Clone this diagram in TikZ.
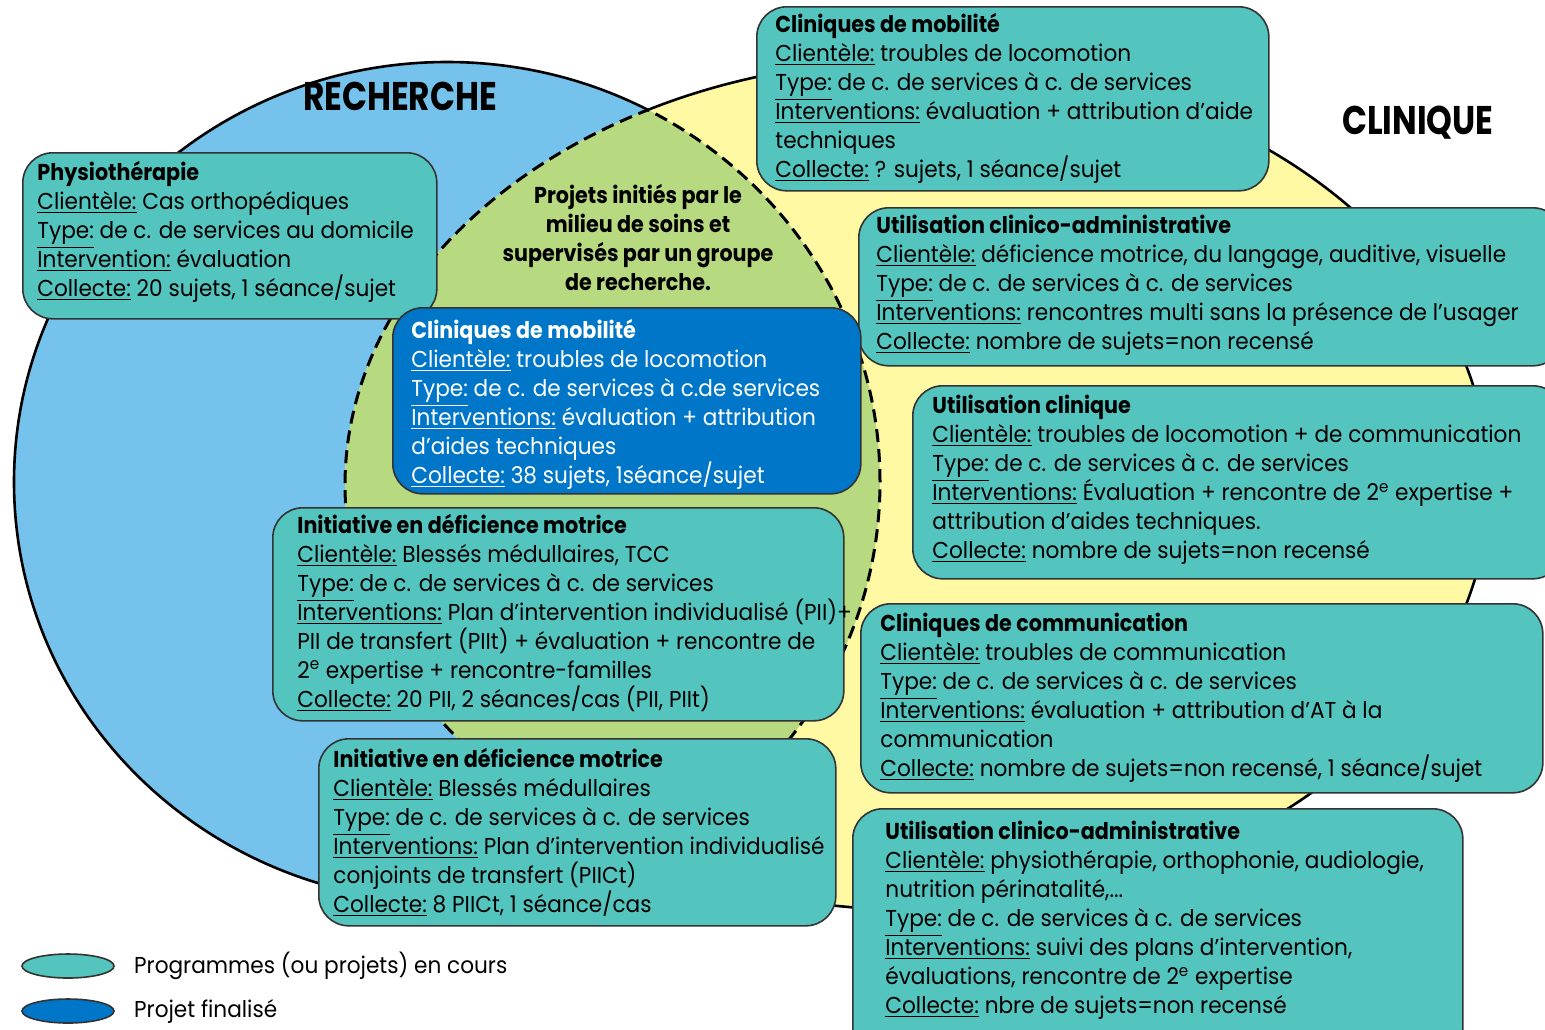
\documentclass[tikz,border=0pt]{standalone}
\usepackage{fontspec}
\setmainfont{Poppins}[FakeStretch=0.94, BoldFeatures={FakeStretch=0.9}]
\newfontfamily\titlefont{Poppins}[FakeStretch=0.82]
\usepackage{tikz}
\usetikzlibrary{positioning}
\usetikzlibrary{shapes.geometric}

\definecolor{recherche}{RGB}{117,195,236}
\definecolor{clinique}{RGB}{255,249,163}
\definecolor{mixte}{RGB}{183,217,127}
\definecolor{encours}{RGB}{84,197,190}
\definecolor{finalise}{RGB}{0,118,200}

\newcommand{\champ}[1]{\underline{#1}}
\setlength{\lineskiplimit}{-20pt}

\begin{document}
\begin{tikzpicture}[
    x=0.5pt, y=-0.5pt,
    progbox/.style={draw=black!80, line width=0.8pt, fill=encours, rounded corners=15pt, anchor=north west, inner sep=0pt},
    finibox/.style={progbox, fill=finalise},
    boxtext/.style={align=left, inner sep=0pt, font=\fontsize{11.5pt}{14.5pt}\selectfont},
    bigtitle/.style={font=\titlefont\bfseries\fontsize{20pt}{24pt}\selectfont},
    legendkey/.style={draw=black!80, line width=0.8pt, ellipse, minimum width=46pt, minimum height=12pt, inner sep=0pt},
    lens/.style={line width=1.5pt, dash pattern=on 6.5pt off 3.5pt}
    ]

    \useasboundingbox (0,0) rectangle (1545,1029);
    \clip (0,0) rectangle (1545,1029);

    % les deux milieux
    \fill[recherche] (447,482) ellipse [x radius=216.5pt, y radius=210pt];
    \fill[clinique] (917,485) ellipse [x radius=286pt, y radius=212.5pt];
    \begin{scope}
        \clip (447,482) ellipse [x radius=216.5pt, y radius=210pt];
        \fill[mixte] (917,485) ellipse [x radius=286pt, y radius=212.5pt];
        \draw[lens] (917,485) ellipse [x radius=286pt, y radius=212.5pt];
    \end{scope}
    \begin{scope}
        \clip (917,485) ellipse [x radius=286pt, y radius=212.5pt];
        \draw[lens] (447,482) ellipse [x radius=216.5pt, y radius=210pt];
    \end{scope}
    \begin{scope}[even odd rule]
        \clip (0,0) rectangle (1545,1029) (917,485) ellipse [x radius=286pt, y radius=212.5pt];
        \draw[line width=1.3pt] (447,482) ellipse [x radius=216.5pt, y radius=210pt];
    \end{scope}
    \begin{scope}[even odd rule]
        \clip (0,0) rectangle (1545,1029) (447,482) ellipse [x radius=216.5pt, y radius=210pt];
        \draw[line width=1.3pt] (917,485) ellipse [x radius=286pt, y radius=212.5pt];
    \end{scope}

    \node[bigtitle] (recherche) at (400,96) {RECHERCHE};
    \node[bigtitle] (clinique) at (1418,123) {CLINIQUE};
    \node[boxtext, align=center, font=\fontsize{11.5pt}{14.5pt}\selectfont\bfseries] (initie) at (638,237)
        {Projets initiés par le\\milieu de soins et\\supervisés par un groupe\\de recherche.};

    % programmes en cours
    \node[progbox, minimum width=207pt, minimum height=83pt] (physio) at (22,152) {};
    \node[boxtext, below right=4.5pt and 7.5pt of physio.north west] (physiotxt)
        {\textbf{Physiothérapie}\\
        \champ{Clientèle:} Cas orthopédiques\\
        \champ{Type:} de c. de services au domicile\\
        \champ{Intervention:} évaluation\\
        \champ{Collecte:} 20 sujets, 1 séance/sujet};

    \node[progbox, minimum width=256pt, minimum height=92pt] (mobilite) at (756,6) {};
    \node[boxtext, below right=3.5pt and 9.5pt of mobilite.north west] (mobilitetxt)
        {\textbf{Cliniques de mobilité}\\
        \champ{Clientèle:} troubles de locomotion\\
        \champ{Type:} de c. de services à c. de services\\
        \champ{Interventions:} évaluation + attribution d’aide\\
        techniques\\
        \champ{Collecte:} ? sujets, 1 séance/sujet};

    \node[progbox, minimum width=352pt, minimum height=79pt] (admin) at (858,207) {};
    \node[boxtext, below right=4pt and 9pt of admin.north west] (admintxt)
        {\textbf{Utilisation clinico-administrative}\\
        \champ{Clientèle:} déficience motrice, du langage, auditive, visuelle\\
        \champ{Type:} de c. de services à c. de services\\
        \champ{Interventions:} rencontres multi sans la présence de l’usager\\
        \champ{Collecte:} nombre de sujets=non recensé};

    \node[progbox, minimum width=325pt, minimum height=96.5pt] (clinique) at (912,385) {};
    \node[boxtext, below right=5pt and 10pt of clinique.north west] (cliniquetxt)
        {\textbf{Utilisation clinique}\\
        \champ{Clientèle:} troubles de locomotion + de communication\\
        \champ{Type:} de c. de services à c. de services\\
        \champ{Interventions:} Évaluation + rencontre de 2\textsuperscript{e} expertise +\\
        attribution d’aides techniques.\\
        \champ{Collecte:} nombre de sujets=non recensé};

    \node[progbox, minimum width=341pt, minimum height=94.5pt] (commu) at (860,603) {};
    \node[boxtext, below right=5pt and 10pt of commu.north west] (commutxt)
        {\textbf{Cliniques de communication}\\
        \champ{Clientèle:} troubles de communication\\
        \champ{Type:} de c. de services à c. de services\\
        \champ{Interventions:} évaluation + attribution d’AT à la\\
        communication\\
        \champ{Collecte:} nombre de sujets=non recensé, 1 séance/sujet};

    \node[progbox, minimum width=305pt, minimum height=125pt] (adminbis) at (852,808) {};
    \node[boxtext, below right=6.5pt and 16.5pt of adminbis.north west] (adminbistxt)
        {\textbf{Utilisation clinico-administrative}\\
        \champ{Clientèle:} physiothérapie, orthophonie, audiologie,\\
        nutrition périnatalité,...\\
        \champ{Type:} de c. de services à c. de services\\
        \champ{Interventions:} suivi des plans d’intervention,\\
        évaluations, rencontre de 2\textsuperscript{e} expertise\\
        \champ{Collecte:} nbre de sujets=non recensé};

    \node[progbox, minimum width=285.5pt, minimum height=106.5pt] (motrice) at (272,507) {};
    \node[boxtext, below right=3.5pt and 12.5pt of motrice.north west] (motricetxt)
        {\textbf{Initiative en déficience motrice}\\
        \champ{Clientèle:} Blessés médullaires, TCC\\
        \champ{Type:} de c. de services à c. de services\\
        \champ{Interventions:} Plan d’intervention individualisé (PII)+\\
        PII de transfert (PIIt) + évaluation + rencontre de\\
        2\textsuperscript{e} expertise + rencontre-familles\\
        \champ{Collecte:} 20 PII, 2 séances/cas (PII, PIIt)};

    \node[progbox, minimum width=258.5pt, minimum height=93.5pt] (motricebis) at (318,738) {};
    \node[boxtext, below right=5pt and 7.5pt of motricebis.north west] (motricebistxt)
        {\textbf{Initiative en déficience motrice}\\
        \champ{Clientèle:} Blessés médullaires\\
        \champ{Type:} de c. de services à c. de services\\
        \champ{Interventions:} Plan d’intervention individualisé\\
        conjoints de transfert (PIICt)\\
        \champ{Collecte:} 8 PIICt, 1 séance/cas};

    % projet finalise
    \node[finibox, minimum width=234pt, minimum height=93pt] (fini) at (392,307) {};
    \node[boxtext, text=white, below right=6pt and 9.5pt of fini.north west] (finitxt)
        {\textbf{Cliniques de mobilité}\\
        \champ{Clientèle:} troubles de locomotion\\
        \champ{Type:} de c. de services à c.de services\\
        \champ{Interventions:} évaluation + attribution\\
        d’aides techniques\\
        \champ{Collecte:} 38 sujets, 1séance/sujet};

    % legende
    \node[legendkey, fill=encours] (keyencours) at (68,966) {};
    \node[boxtext, right=9.5pt of keyencours] (txtencours) {Programmes (ou projets) en cours};
    \node[legendkey, fill=finalise] (keyfini) at (68,1011) {};
    \node[boxtext, right=9.5pt of keyfini] (txtfini) {Projet finalisé};

\end{tikzpicture}
\end{document}
